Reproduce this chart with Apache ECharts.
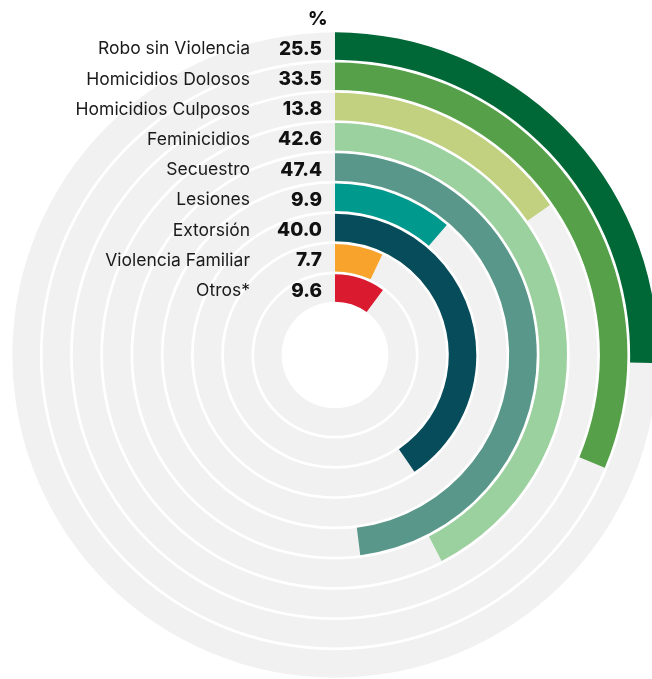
<!DOCTYPE html>
<html>
<head>
<meta charset="utf-8">
<script src="https://cdn.jsdelivr.net/npm/echarts@6/dist/echarts.min.js"></script>
<style>
    html, body { margin: 0; padding: 0; background: #ffffff; }
    #chart { width: 652px; height: 679px; }
</style>
</head>
<body>
<div id="chart"></div>
<script>
    // categorias (de afuera hacia adentro), porcentaje impreso y largo del arco tal como se dibuja
    var categorias = ['Robo sin Violencia', 'Homicidios Dolosos', 'Homicidios Culposos', 'Feminicidios',
        'Secuestro', 'Lesiones', 'Extorsión', 'Violencia Familiar', 'Otros*'];
    var valores = ['25.5', '33.5', '13.8', '42.6', '47.4', '9.9', '40.0', '7.7', '9.6'];
    var arcos = [25.4, 31.3, 15.3, 42.4, 48.0, 11.3, 40.5, 7.0, 10.1];
    var colores = ['#006837', '#55a048', '#c2d17f', '#9bd19e', '#589789', '#00998e', '#064c5a', '#f8a42c', '#da1a2e'];

    var myChart = echarts.init(document.getElementById('chart'));

    var data = [];
    for (var i = 0; i < arcos.length; i++) {
        data.push({
            value: arcos[i],
            itemStyle: { color: colores[i] }
        });
    }

    var option = {
        animation: false,
        title: {
            text: '%',
            left: 303,
            top: 5,
            textStyle: {
                fontFamily: 'Inter',
                fontSize: 19,
                fontWeight: 800,
                color: '#111111'
            }
        },
        polar: {
            center: [335, 355],
            radius: [52, 324]
        },
        angleAxis: {
            type: 'value',
            min: 0,
            max: 100,
            startAngle: 90,
            clockwise: true,
            show: false
        },
        radiusAxis: {
            type: 'category',
            data: categorias,
            inverse: true,
            axisLine: { show: false },
            axisTick: { show: false },
            splitLine: { show: false },
            z: 10,
            axisLabel: {
                interval: 0,
                margin: 13,
                padding: [6, 0, 0, 0],
                formatter: function (value, index) {
                    return '{n|' + value + '}{v|' + valores[index] + '}';
                },
                rich: {
                    n: {
                        fontFamily: 'Inter',
                        fontSize: 17.5,
                        color: '#1a1a1a'
                    },
                    v: {
                        fontFamily: 'Inter',
                        fontSize: 19,
                        fontWeight: 800,
                        color: '#111111',
                        width: 72,
                        align: 'right'
                    }
                }
            }
        },
        series: [{
            type: 'bar',
            coordinateSystem: 'polar',
            data: data,
            barCategoryGap: '9%',
            showBackground: true,
            backgroundStyle: {
                color: '#f1f1f1'
            }
        }]
    };
    myChart.setOption(option);
</script>
</body>
</html>
